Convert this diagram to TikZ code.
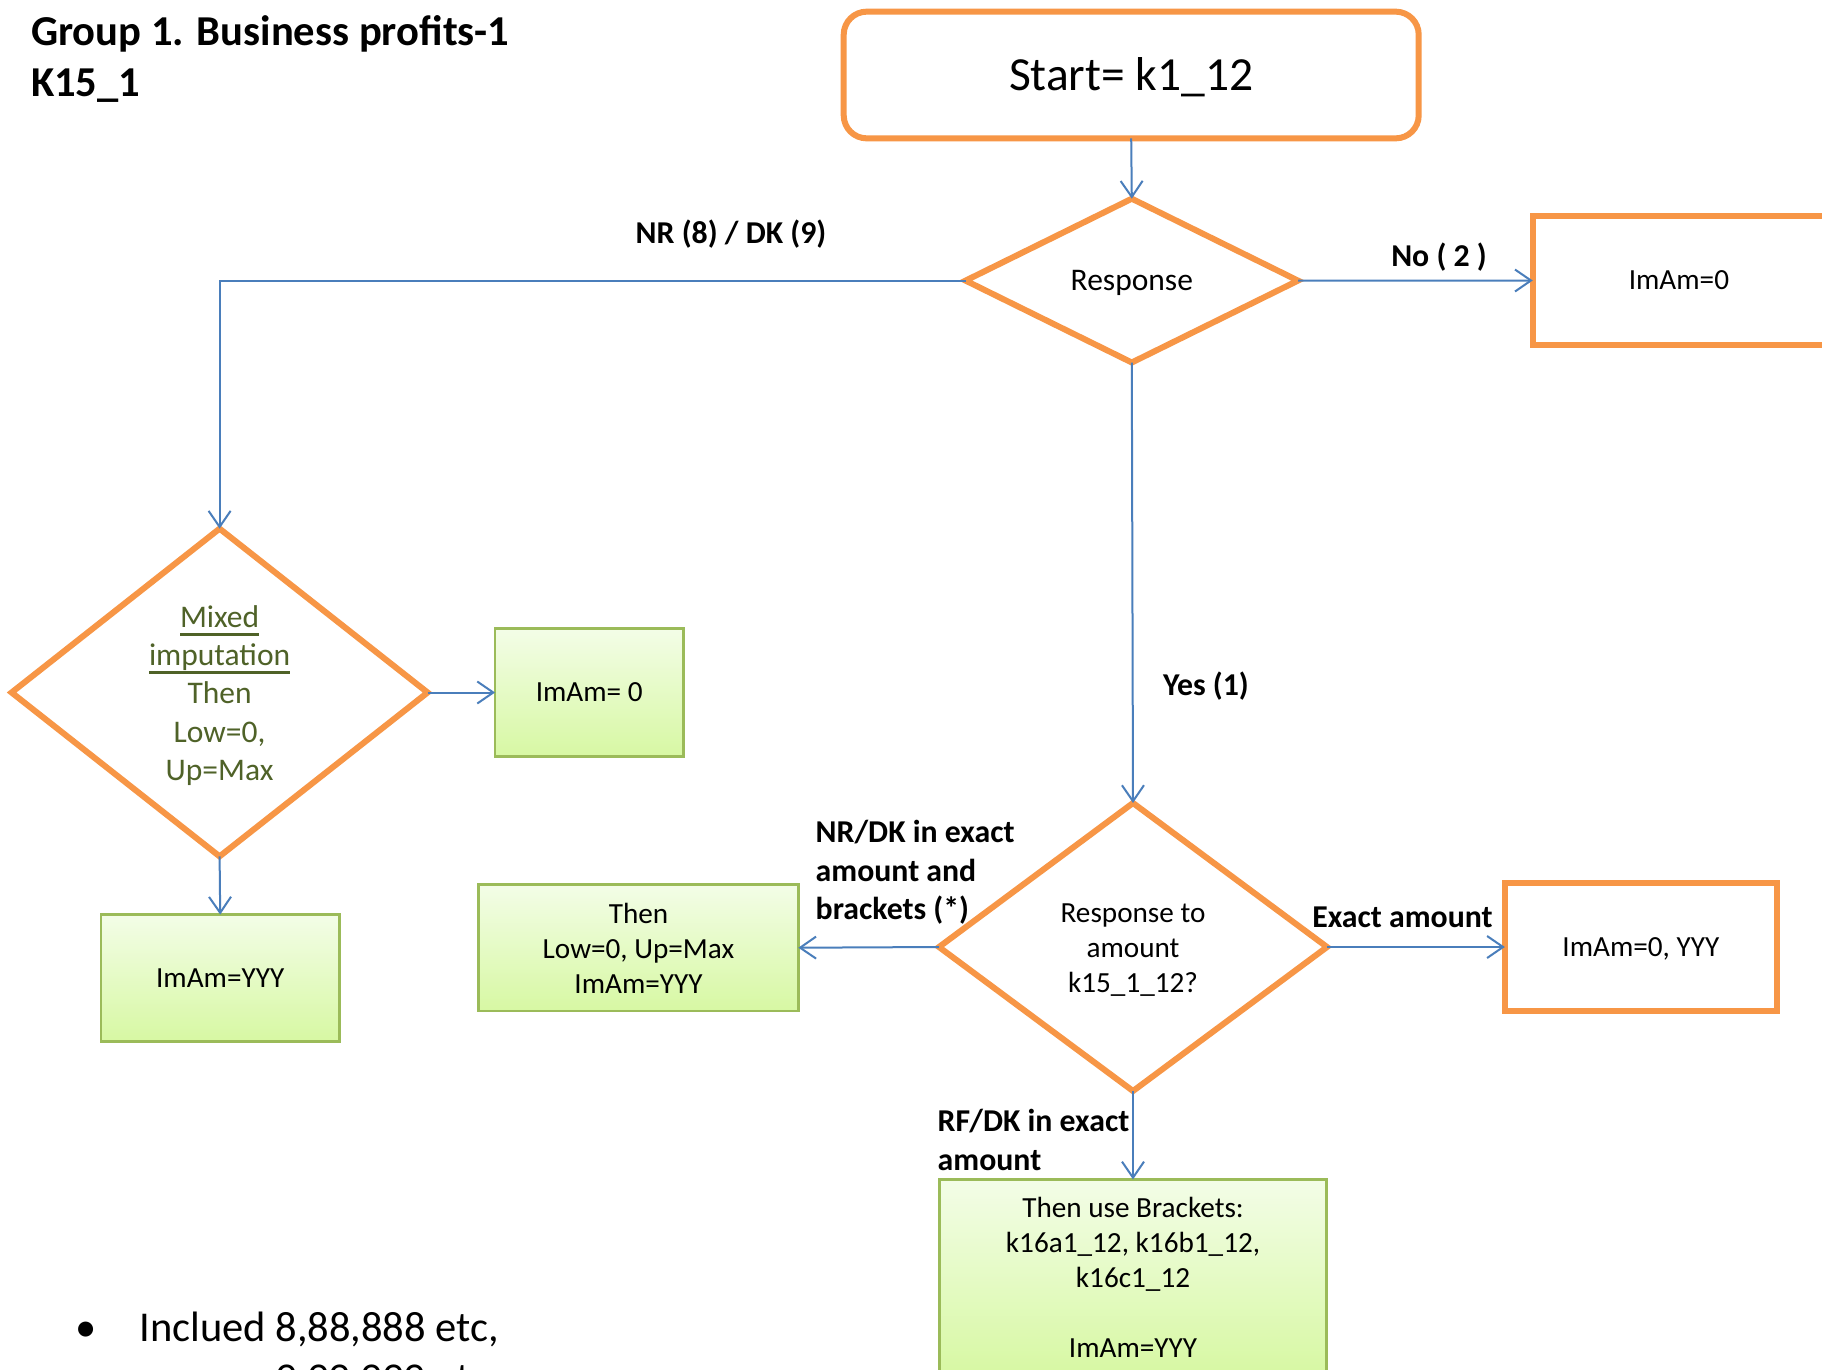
\documentclass[tikz,border=0pt]{standalone}
\usepackage{fontspec}
\setmainfont{Carlito}
\usetikzlibrary{shapes.geometric,arrows.meta}
\definecolor{orng}{HTML}{F79646}
\definecolor{conblue}{HTML}{4A7EBB}
\definecolor{grtop}{HTML}{F3FDE7}
\definecolor{grbot}{HTML}{D7F8A3}
\definecolor{grline}{HTML}{9BBB59}
\definecolor{olivetext}{HTML}{4F6228}
\newcommand{\myul}[1]{\setbox0\hbox{#1}\rlap{\vrule width \wd0 height -5.5pt depth 8.2pt}\box0}
\newcommand{\bodyfnt}{\fontsize{29.2}{35}\selectfont}
\newcommand{\midfnt}{\fontsize{31.5}{38.3}\selectfont}
\newcommand{\lblfnt}{\fontsize{31.8}{38.4}\selectfont\bfseries}
\newcommand{\titlefnt}{\fontsize{42.6}{51.2}\selectfont\bfseries}
\newcommand{\startfnt}{\fontsize{47.5}{57}\selectfont}
\newcommand{\bulletfnt}{\fontsize{42.5}{51}\selectfont}
\begin{document}
\begin{tikzpicture}[x=1pt,y=-1pt,
  every node/.style={inner sep=0pt,outer sep=0pt},
  orangebox/.style={draw=orng,line width=6pt,fill=white,align=center,font=\bodyfnt},
  decision/.style={diamond,draw=orng,line width=6pt,fill=white,align=center},
  greenbox/.style={draw=grline,line width=2.5pt,top color=grtop,bottom color=grbot,align=center,font=\bodyfnt},
  oneline/.style={text height=21.5pt,text depth=3pt},
  conn/.style={draw=conblue,line width=2pt,-{Straight Barb[length=16pt,width=22pt]}},
  lbl/.style={font=\lblfnt,anchor=base},
  lblblock/.style={font=\lblfnt,anchor=north west,align=left}]
\useasboundingbox (0,0) rectangle (1822,1369);
\clip (0,0) rectangle (1822,1369);
\fill[white] (0,0) rectangle (1822,1369);

% title
\node[font=\titlefnt,anchor=north west,align=left] (title) at (31,15.7)
  {Group 1. Business profits-1\\K15\_1};

% start
\node[draw=orng,line width=6pt,rounded corners=23pt,minimum width=575pt,minimum height=126.7pt,
  font=\startfnt,text height=34pt,text depth=4pt]
  (start) at (1131.2,75) {Start= k1\_12};

% response diamond
\node[decision,minimum width=332.4pt,minimum height=163.8pt,shape aspect=2.02,font=\midfnt,
  text height=23pt,text depth=3pt]
  (resp) at (1131.8,280.6) {Response};

% ImAm=0 top right
\node[orangebox,oneline,minimum width=292.3pt,minimum height=129pt] (imamzero) at (1678.9,280.5) {ImAm=0};

% mixed imputation diamond
\node[decision,minimum width=416pt,minimum height=327.7pt,shape aspect=1.27,font=\midfnt,text=olivetext]
  (mixed) at (219.6,692.5) {\rule{0pt}{28pt}\myul{Mixed}\\\myul{imputation}\\Then\\Low=0,\\Up=Max};

\node[greenbox,oneline,minimum width=188.3pt,minimum height=127.9pt] (mimamzero) at (589.2,692.5) {ImAm= 0};
\node[greenbox,oneline,minimum width=238.3pt,minimum height=126.7pt] (mimamyyy) at (220.2,977.9) {ImAm=YYY};

% response to amount diamond
\node[decision,minimum width=388pt,minimum height=288pt,shape aspect=1.35,font=\bodyfnt]
  (amt) at (1133,947) {\rule{0pt}{25.5pt}Response to\\amount\\k15\_1\_12?};

\node[greenbox,minimum width=319.6pt,minimum height=126.7pt] (thenbox) at (638.5,947.7)
  {\rule{0pt}{21pt}Then\\Low=0, Up=Max\\ImAm=YYY};
\node[orangebox,oneline,minimum width=271.9pt,minimum height=128pt] (exactbox) at (1640.8,947) {ImAm=0, YYY};
\node[greenbox,anchor=north,minimum width=387pt,minimum height=195pt] (brackbox) at (1133,1179.4)
  {Then use Brackets:\\k16a1\_12, k16b1\_12,\\k16c1\_12\\[35pt]ImAm=YYY};

% connectors
\draw[conn] (start.south) -- (resp.north);
\draw[conn] (resp.east) -- (imamzero.west);
\draw[conn] (resp.west) -| (mixed.north);
\draw[conn] (resp.south) -- (amt.north);
\draw[conn] (mixed.east) -- (mimamzero.west);
\draw[conn] (mixed.south) -- (mimamyyy.north);
\draw[conn] (amt.west) -- (thenbox.east);
\draw[conn] (amt.east) -- (exactbox.west);
\draw[conn] (amt.south) -- (brackbox.north);

% labels
\node[lbl] (lnr) at (731,243.5) {NR (8) / DK (9)};
\node[lbl] (lno) at (1439,266.2) {No ( 2 )};
\node[lbl] (lyes) at (1206,695.5) {Yes (1)};
\node[lbl] (lexact) at (1402.5,927) {Exact amount};
\node[lblblock] (lnrdk) at (815.7,820.5) {NR/DK in exact\\amount and\\brackets (*)};
\node[lblblock] (lrfdk) at (937.7,1109.5) {RF/DK in exact\\amount};

% bullet note
\node[font=\bulletfnt,anchor=base] (bul) at (86,1341.5) {\textbullet};
\node[font=\bulletfnt,anchor=base west] (note1) at (139.4,1341.5) {Inclued 8,88,888 etc,};
\node[font=\bulletfnt,anchor=base west] (note2) at (275,1392.5) {9,99,999 etc};
\end{tikzpicture}
\end{document}
